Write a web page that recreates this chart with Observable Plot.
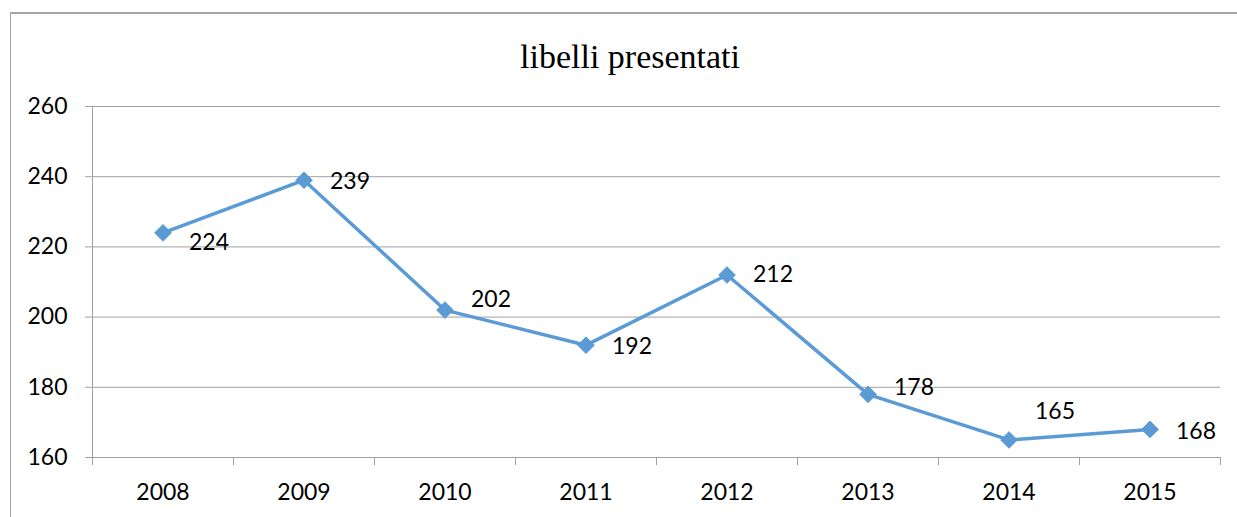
<!DOCTYPE html>
<html>
<head>
<meta charset="utf-8">
<script src="https://cdn.jsdelivr.net/npm/d3@7"></script>
<script src="https://cdn.jsdelivr.net/npm/@observablehq/plot@0.6"></script>
<style>
  html, body { margin: 0; padding: 0; background: #fff; }
  #wrap { position: relative; width: 1237px; height: 517px; overflow: hidden; }
  #frame { position: absolute; left: 10px; top: 12px; width: 1240px; height: 520px;
           border-left: 1.5px solid #a6a6a6; border-top: 2px solid #a6a6a6; box-sizing: border-box; }
  #title { position: absolute; left: 0; top: 37px; width: 1260px; text-align: center;
           font-family: "Liberation Serif", "Times New Roman", serif; font-size: 34px; color: #000; line-height: 40px; }
  #chart { position: absolute; left: 0; top: 0; }
</style>
</head>
<body>
<div id="wrap">
  <div id="frame"></div>
  <div id="title">libelli presentati</div>
  <div id="chart"></div>
</div>
<script>
const years = [2008, 2009, 2010, 2011, 2012, 2013, 2014, 2015];
const values = [224, 239, 202, 192, 212, 178, 165, 168];
const yTicks = [160, 180, 200, 220, 240, 260];
const labelNudge = [10, 1, -10, 1, 0, -7, -28, 2];

const data = years.map((y, i) => ({year: y, value: values[i], nudge: labelNudge[i]}));
const boundaries = d3.range(years[0] - 0.5, years[years.length - 1] + 1, 1);

const blue = "#5b9bd5";
const font = "Lato, 'Open Sans', sans-serif";
const fs = 23;

const plot = Plot.plot({
  width: 1237,
  height: 517,
  marginLeft: 92,
  marginRight: 17,
  marginTop: 106,
  marginBottom: 60,
  style: {fontFamily: font, fontSize: fs + "px", color: "#000", background: "transparent", overflow: "visible"},
  x: {domain: [years[0] - 0.5, years[years.length - 1] + 0.5]},
  y: {domain: [160, 260]},
  marks: [
    Plot.gridY(yTicks, {stroke: "#a0a0a0", strokeOpacity: 1, strokeWidth: 1}),
    Plot.ruleY([160], {stroke: "#a0a0a0", strokeWidth: 1}),
    Plot.ruleX([years[0] - 0.5], {stroke: "#a0a0a0", strokeWidth: 1}),
    Plot.axisY(yTicks, {tickSize: 7, tickPadding: 18, stroke: "#a0a0a0", fill: "#000", label: null, fontSize: fs}),
    Plot.axisX(boundaries, {tickSize: 8, tickFormat: () => "", stroke: "#a0a0a0", label: null}),
    Plot.axisX(years, {tickSize: 0, tickPadding: 26, tickFormat: d => String(d), fill: "#000", label: null, fontSize: fs}),
    Plot.line(data, {x: "year", y: "value", stroke: blue, strokeWidth: 3.5}),
    Plot.dot(data, {x: "year", y: "value", symbol: "diamond2", r: 7.5, fill: blue, stroke: blue, strokeWidth: 1}),
    ...data.map(d => Plot.text([d], {x: "year", y: "value", text: d => String(d.value), dx: 46, dy: d.nudge,
      fill: "#000", fontSize: fs, textAnchor: "middle"}))
  ]
});
document.getElementById("chart").appendChild(plot);
</script>
</body>
</html>
